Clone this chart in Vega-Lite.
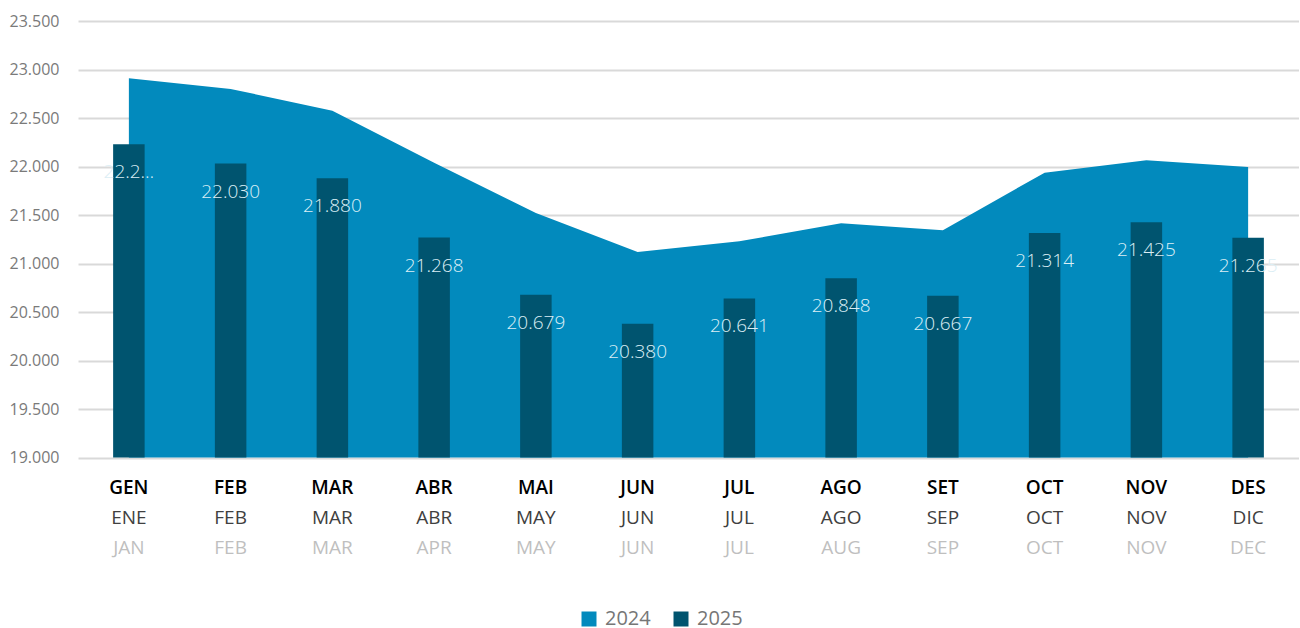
{
  "$schema": "https://vega.github.io/schema/vega-lite/v6.json",
  "background": "white",
  "padding": {"left": 9, "top": 13, "right": 0, "bottom": 0},
  "config": {
    "view": {"stroke": null},
    "font": "Open Sans",
    "locale": {"number": {"decimal": ",", "thousands": ".", "grouping": [3], "currency": ["", " €"]}}
  },
  "data": {
    "values": [
      {"ca": "GEN", "es": "ENE", "en": "JAN", "v2024": 22910, "v2025": 22230, "label": "22.2…"},
      {"ca": "FEB", "es": "FEB", "en": "FEB", "v2024": 22800, "v2025": 22030, "label": "22.030"},
      {"ca": "MAR", "es": "MAR", "en": "MAR", "v2024": 22575, "v2025": 21880, "label": "21.880"},
      {"ca": "ABR", "es": "ABR", "en": "APR", "v2024": 22040, "v2025": 21268, "label": "21.268"},
      {"ca": "MAI", "es": "MAY", "en": "MAY", "v2024": 21520, "v2025": 20679, "label": "20.679"},
      {"ca": "JUN", "es": "JUN", "en": "JUN", "v2024": 21120, "v2025": 20380, "label": "20.380"},
      {"ca": "JUL", "es": "JUL", "en": "JUL", "v2024": 21230, "v2025": 20641, "label": "20.641"},
      {"ca": "AGO", "es": "AGO", "en": "AUG", "v2024": 21415, "v2025": 20848, "label": "20.848"},
      {"ca": "SET", "es": "SEP", "en": "SEP", "v2024": 21343, "v2025": 20667, "label": "20.667"},
      {"ca": "OCT", "es": "OCT", "en": "OCT", "v2024": 21937, "v2025": 21314, "label": "21.314"},
      {"ca": "NOV", "es": "NOV", "en": "NOV", "v2024": 22064, "v2025": 21425, "label": "21.425"},
      {"ca": "DES", "es": "DIC", "en": "DEC", "v2024": 21995, "v2025": 21265, "label": "21.265"}
    ]
  },
  "spacing": 14.5,
  "bounds": "flush",
  "resolve": {"scale": {"x": "independent", "y": "independent"}, "axis": {"x": "independent", "y": "independent"}},
  "vconcat": [
    {
      "width": 1221,
      "height": 436.6,
      "encoding": {
        "x": {"field": "ca", "type": "ordinal", "sort": null, "axis": null,
              "scale": {"paddingInner": 0, "paddingOuter": 0}}
      },
      "layer": [
        {
          "mark": {"type": "area", "opacity": 1},
          "encoding": {
            "y": {"field": "v2024", "type": "quantitative",
                  "scale": {"domain": [19000, 23500], "zero": false, "nice": false},
                  "axis": {"title": null, "values": [19000, 19500, 20000, 20500, 21000, 21500, 22000, 22500, 23000, 23500],
                           "format": ",d", "domain": false, "ticks": false, "labelPadding": 19,
                           "labelFontSize": 16, "labelColor": "#7a7a7a", "gridColor": "#d9d9d9", "gridWidth": 2}},
            "y2": {"datum": 19000},
            "color": {"datum": "2024", "type": "nominal",
                      "scale": {"domain": ["2024", "2025"], "range": ["#028abd", "#00546f"]},
                      "legend": {"orient": "none", "legendX": 501, "legendY": 588, "padding": 0, "direction": "horizontal",
                                 "title": null, "symbolType": "square", "symbolSize": 225, "symbolStrokeWidth": 0,
                                 "symbolOpacity": 1, "labelFontSize": 20, "labelColor": "#767676",
                                 "labelOffset": 6, "columnPadding": 20}}
          }
        },
        {
          "mark": {"type": "bar", "size": 31.5},
          "encoding": {
            "y": {"field": "v2025", "type": "quantitative"},
            "y2": {"datum": 19000},
            "color": {"datum": "2025", "type": "nominal"}
          }
        },
        {
          "mark": {"type": "text", "dy": 28, "fontSize": 19, "fontWeight": 300, "color": "#dbeef5", "baseline": "middle"},
          "encoding": {
            "y": {"field": "v2025", "type": "quantitative"},
            "text": {"field": "label"}
          }
        }
      ]
    },
    {
      "width": 1221,
      "height": 91,
      "transform": [{"fold": ["ca", "es", "en"], "as": ["lang", "name"]}],
      "encoding": {
        "x": {"field": "ca", "type": "ordinal", "sort": null, "axis": null,
              "scale": {"paddingInner": 0, "paddingOuter": 0}},
        "y": {"field": "lang", "type": "nominal", "axis": null,
              "scale": {"type": "point", "domain": ["ca", "es", "en"], "padding": 0.5}},
        "text": {"field": "name"}
      },
      "layer": [
        {"transform": [{"filter": "datum.lang === 'ca'"}],
         "mark": {"type": "text", "fontSize": 19, "fontWeight": 600, "color": "#000000", "baseline": "middle"}},
        {"transform": [{"filter": "datum.lang === 'es'"}],
         "mark": {"type": "text", "fontSize": 19, "color": "#404040", "baseline": "middle"}},
        {"transform": [{"filter": "datum.lang === 'en'"}],
         "mark": {"type": "text", "fontSize": 19, "color": "#bfbfbf", "baseline": "middle"}}
      ]
    }
  ]
}
